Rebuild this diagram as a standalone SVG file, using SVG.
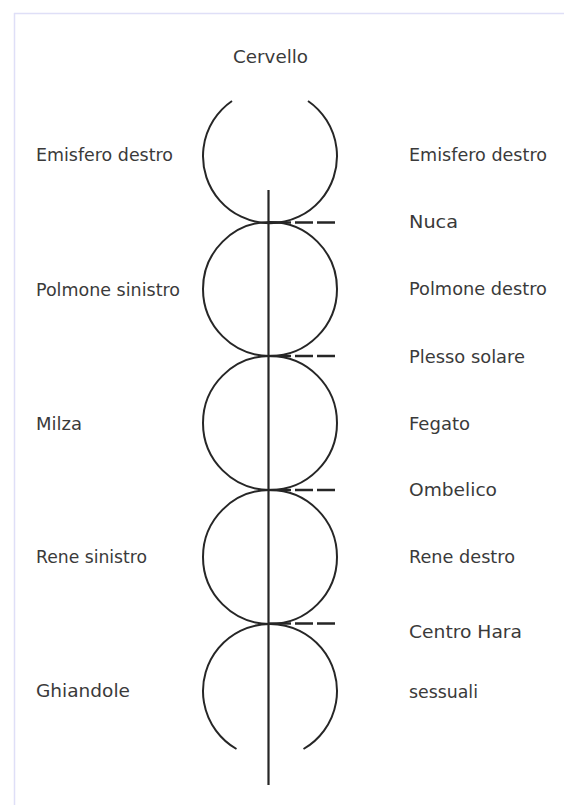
<svg xmlns="http://www.w3.org/2000/svg" width="564" height="805" viewBox="0 0 564 805">
<style>
.lbl{font-family:"DejaVu Sans","Liberation Sans",sans-serif;font-size:17px;fill:#3a3a3a}
.c{fill:none;stroke:#262626;stroke-width:2}
.ax{stroke:#262626;stroke-width:2.2}
.t{stroke:#262626;stroke-width:2.4}
.d{stroke:#262626;stroke-width:2.4;stroke-dasharray:18 4}
</style>
<rect width="564" height="805" fill="#fff"/>
<g id="frame" stroke="#dfdff7" stroke-width="1.5" fill="none">
<line x1="14" y1="13.5" x2="564" y2="13.5"/>
<line x1="14.5" y1="13" x2="14.5" y2="805"/>
</g>
<g id="title"><text class="lbl" x="233" y="63" textLength="75" lengthAdjust="spacingAndGlyphs">Cervello</text></g>
<g id="circle1"><path class="c" d="M232,101 A67 67 0 1 0 308,101"/></g>
<g id="circle2"><circle class="c" cx="270" cy="289" r="67"/></g>
<g id="circle3"><circle class="c" cx="270" cy="423" r="67"/></g>
<g id="circle4"><circle class="c" cx="270" cy="557" r="67"/></g>
<g id="circle5"><path class="c" d="M236.5,749 A67 67 0 1 1 303.5,749"/></g>
<g id="connectors">
<line class="ax" x1="268.5" y1="190" x2="268.5" y2="785"/>
<line class="t" x1="268" y1="222.5" x2="291" y2="222.5"/><line class="d" x1="295" y1="222.5" x2="336" y2="222.5"/>
<line class="t" x1="268" y1="356" x2="291" y2="356"/><line class="d" x1="295" y1="356" x2="336" y2="356"/>
<line class="t" x1="268" y1="490" x2="291" y2="490"/><line class="d" x1="295" y1="490" x2="336" y2="490"/>
<line class="t" x1="268" y1="623.5" x2="291" y2="623.5"/><line class="d" x1="295" y1="623.5" x2="336" y2="623.5"/>
</g>
<g id="left-labels">
<text class="lbl" x="36" y="161" textLength="137" lengthAdjust="spacingAndGlyphs">Emisfero destro</text>
<text class="lbl" x="36" y="296" textLength="144" lengthAdjust="spacingAndGlyphs">Polmone sinistro</text>
<text class="lbl" x="36" y="430" textLength="46" lengthAdjust="spacingAndGlyphs">Milza</text>
<text class="lbl" x="36" y="563" textLength="111" lengthAdjust="spacingAndGlyphs">Rene sinistro</text>
<text class="lbl" x="36" y="697" textLength="94" lengthAdjust="spacingAndGlyphs">Ghiandole</text>
</g>
<g id="right-labels">
<text class="lbl" x="409" y="161" textLength="138" lengthAdjust="spacingAndGlyphs">Emisfero destro</text>
<text class="lbl" x="409" y="228" textLength="49" lengthAdjust="spacingAndGlyphs">Nuca</text>
<text class="lbl" x="409" y="295" textLength="138" lengthAdjust="spacingAndGlyphs">Polmone destro</text>
<text class="lbl" x="409" y="363" textLength="116" lengthAdjust="spacingAndGlyphs">Plesso solare</text>
<text class="lbl" x="409" y="430" textLength="61" lengthAdjust="spacingAndGlyphs">Fegato</text>
<text class="lbl" x="409" y="496" textLength="88" lengthAdjust="spacingAndGlyphs">Ombelico</text>
<text class="lbl" x="409" y="563" textLength="106" lengthAdjust="spacingAndGlyphs">Rene destro</text>
<text class="lbl" x="409" y="638" textLength="113" lengthAdjust="spacingAndGlyphs">Centro Hara</text>
<text class="lbl" x="409" y="698" textLength="69" lengthAdjust="spacingAndGlyphs">sessuali</text>
</g>
</svg>
